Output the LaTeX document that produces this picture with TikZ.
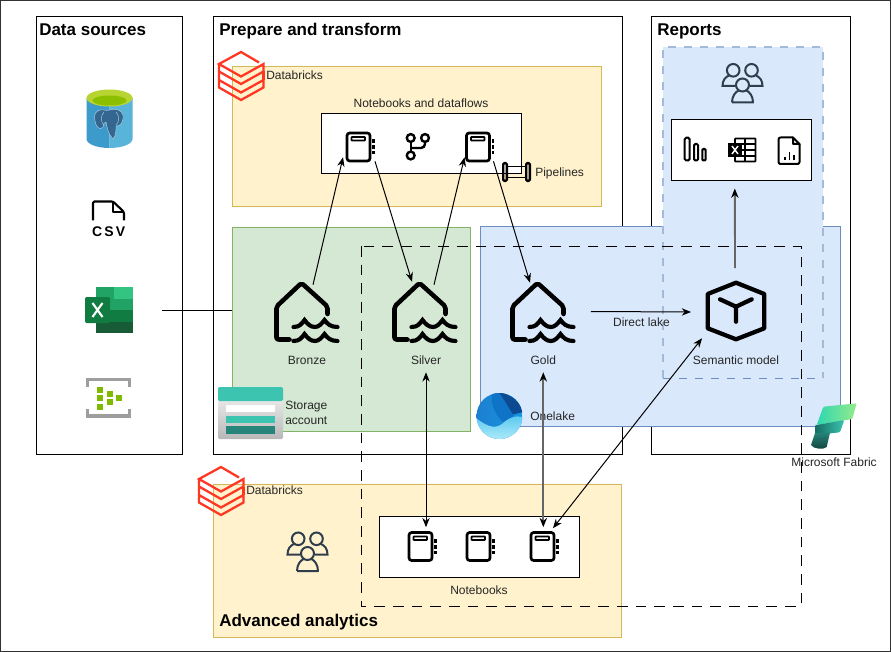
\documentclass[tikz,border=0pt]{standalone}
\usepackage{fontspec}
\setmainfont{Liberation Sans}
\usetikzlibrary{shapes,arrows.meta}
\definecolor{yellowfill}{HTML}{FFF2CC}
\definecolor{yellowline}{HTML}{D6B656}
\definecolor{greenfill}{HTML}{D5E8D4}
\definecolor{greenline}{HTML}{82B366}
\definecolor{bluefill}{HTML}{DAE8FC}
\definecolor{blueline}{HTML}{6C8EBF}
\definecolor{bluedash}{HTML}{A3BAD9}
\definecolor{dbxred}{HTML}{FF3621}
\definecolor{peoplecol}{HTML}{2F3E4E}
\definecolor{pgblue}{HTML}{336791}
\definecolor{pgleft}{HTML}{3D9BCB}
\definecolor{pgright}{HTML}{59B4D9}
\definecolor{pglime}{HTML}{B8D432}
\definecolor{pgdeep}{HTML}{8CBF00}
\definecolor{xla}{HTML}{21A366}
\definecolor{xlb}{HTML}{33C481}
\definecolor{xlc}{HTML}{107C41}
\definecolor{xld}{HTML}{185C37}
\definecolor{hubgreen}{HTML}{7FBA00}
\definecolor{teal}{HTML}{3CC4B0}
\definecolor{darkteal}{HTML}{26847A}
\definecolor{lakedark}{HTML}{0C4B91}
\definecolor{lakemid}{HTML}{0F73C8}
\definecolor{lakeleft}{HTML}{1E7FD0}
\definecolor{lakeright}{HTML}{1496E1}
\definecolor{lakepale}{HTML}{AFEBFA}
\definecolor{lakelight}{HTML}{5AC8F0}
\definecolor{fabmint}{HTML}{2DD7AF}
\definecolor{fablime}{HTML}{96EB8C}
\definecolor{fabdeep}{HTML}{146E64}
\tikzset{
	boxsize/.style 2 args={minimum width=(#1-0.6)*0.75pt,minimum height=#2*0.75pt,inner sep=0pt},
	panel/.style={draw=black,line width=0.75pt,fill=white},
	whitebox/.style={draw=black,line width=0.75pt,fill=white},
	title/.style={font=\bfseries\fontsize{12.75}{14}\selectfont,anchor=base west,inner sep=0pt},
	lbl/.style={font=\fontsize{9}{11}\selectfont,inner sep=0pt,text=black!85},
	conn/.style={line width=0.75pt,-{Stealth[length=7pt,width=5.5pt]}},
	connboth/.style={line width=0.75pt,{Stealth[length=7pt,width=5.5pt]}-{Stealth[length=7pt,width=5.5pt]}},
	connheavy/.style={draw=black!60,line width=1.4pt,{Stealth[length=7pt,width=5.5pt,black]}-{Stealth[length=7pt,width=5.5pt,black]}},
	connup/.style={draw=black!60,line width=1.4pt,-{Stealth[length=7pt,width=5.5pt,black]}},
	lakeicon/.pic={
		\draw[line width=3.4pt,line cap=round,line join=round,rounded corners=1.5pt] (-17,27.5) -- (-30,27.5) -- (-30,-5.5) -- (-5,-29) -- (21,-5.5) -- (21,2);
		\draw[line width=3.1pt,line cap=round] (-13,15) .. controls (-7,15) and (-5,12) .. (-2,8) .. controls (1,12) and (4,15) .. (8.5,15) .. controls (12,15) and (15,12) .. (18,8) .. controls (21,12) and (24,15) .. (31,15);
		\draw[line width=3.1pt,line cap=round] (-13,29) .. controls (-7,29) and (-5,26) .. (-2,22) .. controls (1,26) and (4,29) .. (8.5,29) .. controls (12,29) and (15,26) .. (18,22) .. controls (21,26) and (24,29) .. (31,29);
	},
	nbicon/.pic={
		\draw[line width=2pt,rounded corners=2pt,fill=white] (-12,-14) rectangle (11,14);
		\draw[line width=1.4pt,rounded corners=0.5pt] (-7.5,-10) rectangle (6,-6.5);
		\draw[line width=1.9pt] (14.5,-7.5) -- (14.5,-4) (14.5,-2) -- (14.5,2) (14.5,4) -- (14.5,7.5);
	},
	peopleicon/.pic={
		\draw[peoplecol,line width=1.5pt] (-9.3,-11.7) circle (6.3);
		\draw[peoplecol,line width=1.5pt] (9,-11.7) circle (6.3);
		\draw[peoplecol,line width=1.5pt] (0,3) circle (6.5);
		\draw[peoplecol,line width=1.5pt] (-7,4) -- (-20,4) .. controls (-20,-2) and (-17,-5) .. (-13.5,-6.5);
		\draw[peoplecol,line width=1.5pt] (7,4) -- (20,4) .. controls (20,-2) and (17,-5) .. (13.5,-6.5);
		\draw[peoplecol,line width=1.5pt,line join=round] (-10.5,20.5) -- (10.5,20.5) .. controls (10.5,14) and (7,10) .. (4,8.5) (-4,8.5) .. controls (-7,10) and (-10.5,14) .. (-10.5,20.5);
	},
	dbxicon/.pic={
		\draw[dbxred,line width=1.7pt,miter limit=4] (18,-13.5) -- (0,-24) -- (-22,-12) -- (0,0.5) -- (22.5,-12) -- (22.5,-4.5) -- (0,8) -- (-22,-4.5) -- (-22,-12);
		\draw[dbxred,line width=1.7pt] (-22,-4.5) -- (-22,4) -- (0,16.5) -- (22.5,4) -- (22.5,11.5) -- (0,24) -- (-22,11.5) -- (-22,4);
		\draw[dbxred,line width=1.7pt] (22.5,-4.5) -- (22.5,4);
	}
}
\begin{document}
\begin{tikzpicture}[x=0.75pt,y=-0.75pt]
	\useasboundingbox (0,0) rectangle (891,652);
	\draw[black!80,line width=0.75pt,fill=white] (0.5,0.5) rectangle (890.5,651.5);

	\node[panel,boxsize={147}{438}] (datasrc) at (109.2,235.3) {};
	\node[panel,boxsize={410}{438}] (prep) at (417.8,235.3) {};
	\node[panel,boxsize={200}{438}] (reports) at (750.7,235.3) {};
	\node[draw=yellowline,fill=yellowfill,line width=0.75pt,boxsize={370}{140}] (pipezone) at (416.8,136.3) {};
	\node[draw=greenline,fill=greenfill,line width=0.75pt,boxsize={239}{204}] (storezone) at (351.2,329) {};
	\node[draw=blueline,fill=bluefill,line width=0.75pt,boxsize={361}{200}] (lakezone) at (660.5,326) {};
	\node[fill=bluefill,boxsize={160}{331}] (reportzone) at (743,212.5) {};
	\draw[bluedash,line width=1.1pt,dash pattern=on 6pt off 6pt] (663,378) -- (663,47) -- (823,47) -- (823,378);
	\draw[blueline,line width=0.75pt,dash pattern=on 6pt off 6pt] (663,378) -- (823,378);
	\node[draw=yellowline,fill=yellowfill,line width=0.75pt,boxsize={409}{153}] (advzone) at (417.3,560.5) {};

	\node[whitebox,boxsize={201}{60}] (nbbox) at (421.3,143.3) {};
	\node[whitebox,boxsize={141}{61}] (reportbox) at (741.3,150.5) {};
	\node[whitebox,boxsize={201}{61}] (nbbottom) at (479.3,546.5) {};

	\node[title] (srctitle) at (39,36) {Data sources};
	\node[title] (preptitle) at (219,36) {Prepare and transform};
	\node[title] (reptitle) at (657,36) {Reports};
	\node[title] (advtitle) at (219,626) {Advanced analytics};

	% sources
	\node[boxsize={47}{59}] (postgres) at (109.5,118.5) {};
	\fill[pgleft] (86.5,98) -- (86.5,139) arc[x radius=23,y radius=9,start angle=180,end angle=90] -- (109.5,98) -- cycle;
	\fill[pgright] (109.5,98) -- (109.5,148) arc[x radius=23,y radius=9,start angle=90,end angle=0] -- (132.5,98) -- cycle;
	\fill[pglime] (109.5,98) ellipse[x radius=23,y radius=8.5];
	\fill[pgdeep] (109.5,100.5) ellipse[x radius=17,y radius=5];
	\fill[pgblue,draw=white!70!pgblue,line width=0.3pt] (103,110) .. controls (96,109) and (93,115) .. (95,121) .. controls (96,127) and (100,131) .. (103,127) .. controls (104,124) and (104,122) .. (106,122) .. controls (107,127) and (108,134) .. (113,139) .. controls (116,136) and (116,130) .. (116,126) .. controls (121,127) and (124,120) .. (123,115) .. controls (122,110) and (115,108) .. (110,110) .. controls (108,110.5) and (106,110.5) .. (103,110) -- cycle;
	\draw[white!70!pgblue,line width=0.3pt] (104,112) .. controls (100,116) and (101,123) .. (104,125) (116,112) .. controls (120,116) and (119,123) .. (116,125);

	\node[boxsize={31}{20}] (csvdoc) at (108.5,211) {};
	\draw[line width=1.6pt,line join=round,rounded corners=1pt] (93,220.5) -- (93,201.5) -- (113,201.5) -- (124,212) -- (124,220.5);
	\draw[line width=1.3pt,line join=round] (113,201.5) -- (113,212) -- (124,212);
	\node[font=\bfseries\fontsize{10.5}{12}\selectfont,inner sep=0pt] (csvtext) at (108.7,232) {\addfontfeature{LetterSpace=15}CSV};

	\node[boxsize={48}{46}] (excel) at (109,310) {};
	\fill[xla] (96,287) rectangle (133,298.5);
	\fill[xlb] (114,287) rectangle (133,298.5);
	\fill[xla] (96,298.5) rectangle (133,310);
	\fill[xlc] (96,310) rectangle (133,321.5);
	\fill[xld] (96,321.5) rectangle (133,333);
	\fill[xlc,rounded corners=1pt] (85,297) rectangle (110,323);
	\draw[white,line width=1.6pt] (92.5,303) -- (102.5,317) (102.5,303) -- (92.5,317);

	\node[boxsize={45}{39}] (eventhub) at (108.5,398) {};
	\draw[black!38,line width=2.6pt] (87.5,387) -- (87.5,379.5) -- (129.5,379.5) -- (129.5,387);
	\draw[black!38,line width=2.6pt] (87.5,409) -- (87.5,416) -- (129.5,416) -- (129.5,409);
	\foreach \gx/\gy in {100/390,100/398,100/407,110/394,110/402,119/398}
		\fill[hubgreen] (\gx-3.4,\gy-3.2) rectangle (\gx+3.4,\gy+3.2);

	% prepare and transform
	\pic at (241,76) {dbxicon};
	\node[lbl,anchor=west] (dbxtop) at (266,75.5) {Databricks};
	\node[lbl] (nbtitle) at (421,103.5) {Notebooks and dataflows};
	\node[boxsize={24}{28}] (nba) at (359,147) {};
	\pic at (nba) {nbicon};
	\node[boxsize={24}{28}] (nbb) at (478.5,147) {};
	\pic at (nbb) {nbicon};
	\node[boxsize={24}{28}] (branch) at (417.5,146) {};
	\draw[line width=1.8pt] (410.7,138) circle (3.9) (425,138) circle (3.9) (410.7,155.5) circle (3.9);
	\draw[line width=1.8pt] (410.7,142) -- (410.7,151.5);
	\draw[line width=1.8pt,rounded corners=3pt] (425,142) -- (425,148) -- (410.7,148);
	\node[boxsize={28}{20}] (pipes) at (517,172) {};
	\draw[line width=1.8pt,rounded corners=1pt] (503.2,163) rectangle (506.8,181);
	\draw[line width=1.8pt,rounded corners=1pt] (526.2,163) rectangle (529.8,181);
	\draw[line width=1.4pt] (506.8,166.5) -- (526.2,166.5) (506.8,177.5) -- (526.2,177.5);
	\node[lbl,anchor=west] (pipelbl) at (535,173.5) {Pipelines};

	\node[boxsize={62}{60}] (bronze) at (306.5,312) {};
	\pic at (bronze) {lakeicon};
	\node[boxsize={62}{60}] (silver) at (424.5,312) {};
	\pic at (silver) {lakeicon};
	\node[boxsize={62}{60}] (gold) at (542.5,312) {};
	\pic at (gold) {lakeicon};
	\node[lbl,boxsize={40}{24}] (bronzelbl) at (307,360) {Bronze};
	\node[lbl,boxsize={40}{24}] (silverlbl) at (426,360) {Silver};
	\node[lbl,boxsize={40}{24}] (goldlbl) at (543.3,360) {Gold};

	\node[boxsize={65}{52}] (storage) at (250.5,413) {};
	\shade[top color=black!8,bottom color=black!28,rounded corners=1pt] (218,397) rectangle (283,439);
	\fill[teal,rounded corners=1pt] (218,387) rectangle (283,401);
	\fill[white] (226,405) rectangle (275,412);
	\fill[teal] (226,415.5) rectangle (275,423);
	\fill[darkteal] (226,426) rectangle (275,433.5);
	\node[lbl,anchor=west,align=left,font=\fontsize{9}{11.25}\selectfont] (storelbl) at (285,413) {Storage\\account};

	\node[boxsize={46}{46}] (onelake) at (499.5,416) {};
	\begin{scope}
		\clip (499.5,416) circle (23);
		\shade[left color=lakeleft,right color=lakeright] (476,392) rectangle (523,440);
		\fill[lakedark] (494,392) .. controls (505,392) and (520,398) .. (523,412) -- (511,415) .. controls (506,408) and (503,400) .. (494,392) -- cycle;
		\fill[lakemid] (492,392) .. controls (490,402) and (494,414) .. (504,423) .. controls (508,420) and (511,417) .. (514,416) .. controls (508,408) and (504,398) .. (498,392) -- cycle;
		\shade[top color=lakelight,bottom color=lakepale] (476,418) .. controls (485,425) and (494,430) .. (502,424) .. controls (508,418) and (516,415) .. (523,417) -- (523,440) -- (476,440) -- cycle;
	\end{scope}
	\node[lbl,anchor=west] (lakelbl) at (530,416.5) {Onelake};

	% reports
	\pic at (742.5,82) {peopleicon};
	\node[boxsize={22}{24}] (barsicon) at (695.5,149) {};
	\draw[line width=1.5pt,rounded corners=1.2pt] (684.7,137.7) rectangle (689.7,160.5);
	\draw[line width=1.5pt,rounded corners=1pt] (694,144) rectangle (698,160.5);
	\draw[line width=1.5pt,rounded corners=0.8pt] (702.3,149) rectangle (705.7,160.5);
	\node[boxsize={28}{24}] (xlicon) at (742,150) {};
	\draw[line width=1.4pt,rounded corners=0.5pt] (735,138.5) rectangle (755.5,161.5);
	\draw[line width=0.9pt] (735,144) -- (755.5,144) (735,150) -- (755.5,150) (735,156) -- (755.5,156) (745,138.5) -- (745,161.5);
	\fill[black] (728,143) rectangle (742,157);
	\draw[white,line width=1.1pt] (732,146) -- (738,154) (738,146) -- (732,154);
	\node[boxsize={22}{28}] (rpticon) at (789,151) {};
	\draw[line width=1.5pt,line join=round,rounded corners=1.5pt] (793,137.5) -- (778.5,137.5) -- (778.5,164) -- (799.5,164) -- (799.5,144);
	\draw[line width=1.5pt,line join=round] (793,137.5) -- (799.5,144) -- (793,144) -- cycle;
	\draw[line width=1.3pt] (785,160.5) -- (785,157) (789.5,160.5) -- (789.5,152) (794,160.5) -- (794,155);

	\node[boxsize={57}{57}] (semantic) at (736,311) {};
	\draw[line width=3.2pt,line join=round] (736,282.7) -- (764.3,294) -- (764.3,328.3) -- (736,339.3) -- (707.7,328.3) -- (707.7,294) -- cycle;
	\draw[line width=3.2pt,line cap=round,line join=round] (720,299.3) -- (736,306.7) -- (751.7,299.3) (736,306.7) -- (736,321.7);
	\node[lbl] (semlbl) at (736,360.5) {Semantic model};
	\node[lbl] (directlbl) at (641.5,322) {Direct lake};

	% advanced analytics
	\pic at (221,491) {dbxicon};
	\node[lbl,anchor=west] (dbxbottom) at (246,490.5) {Databricks};
	\pic at (307.5,550.5) {peopleicon};
	\node[boxsize={24}{28}] (nbc) at (421,546.5) {};
	\pic at (nbc) {nbicon};
	\node[boxsize={24}{28}] (nbd) at (479,546.5) {};
	\pic at (nbd) {nbicon};
	\node[boxsize={24}{28}] (nbe) at (543,546.5) {};
	\pic at (nbe) {nbicon};
	\node[lbl] (nbbottomlbl) at (479,590) {Notebooks};

	% fabric
	\node[boxsize={46}{46}] (fabric) at (834,426) {};
	\shade[left color=fabmint,right color=fablime,rounded corners=1pt] (816.7,425) -- (823.3,406.7) -- (856.7,403.3) -- (852.3,419) -- cycle;
	\shade[left color=fabdeep,right color=teal,rounded corners=1pt] (815,425) -- (816.7,425) -- (844.3,420) -- (840,432.3) -- (815,435) -- cycle;
	\shade[top color=darkteal,bottom color=darkteal!50!black] (815,433) -- (830,432.5) -- (826.7,447) .. controls (824,450) and (813,449) .. (811,445) -- cycle;
	\node[lbl] (fabriclbl) at (834,462.5) {Microsoft Fabric};

	\draw[line width=0.75pt,dash pattern=on 8pt off 6pt] (361,246) rectangle (801,606);

	% connectors
	\draw[line width=0.75pt] ([xshift=29*0.75pt]excel.east) -- (storezone.west |- excel.east);
	\draw[conn] ([shift={(6.5,3)}]bronze.north) -- ([shift={(-4,-4)}]nba.south west);
	\draw[conn] ([shift={(4,0)}]nba.south east) -- ([shift={(-12.5,0)}]silver.north);
	\draw[conn] ([shift={(9.5,3)}]silver.north) -- ([shift={(-2,-4)}]nbb.south west);
	\draw[conn] ([shift={(3,0)}]nbb.south east) -- ([shift={(-12.5,1)}]gold.north);
	\draw[conn] ([shift={(17.5,-0.5)}]gold.east) -- ([shift={(-16.5,1)}]semantic.west);
	\draw[connup] ([shift={(-1,-14)}]semantic.north) -- ([shift={(-6.5,7)}]reportbox.south);
	\draw[connboth] (silverlbl.south) -- ([shift={(5,-5)}]nbc.north);
	\draw[connheavy] (goldlbl.south) -- ([shift={(0.3,-5)}]nbe.north);
	\draw[connboth] ([shift={(-2,-4)}]nbe.north east) -- ([shift={(-5.5,-1.5)}]semantic.south west);
\end{tikzpicture}
\end{document}
